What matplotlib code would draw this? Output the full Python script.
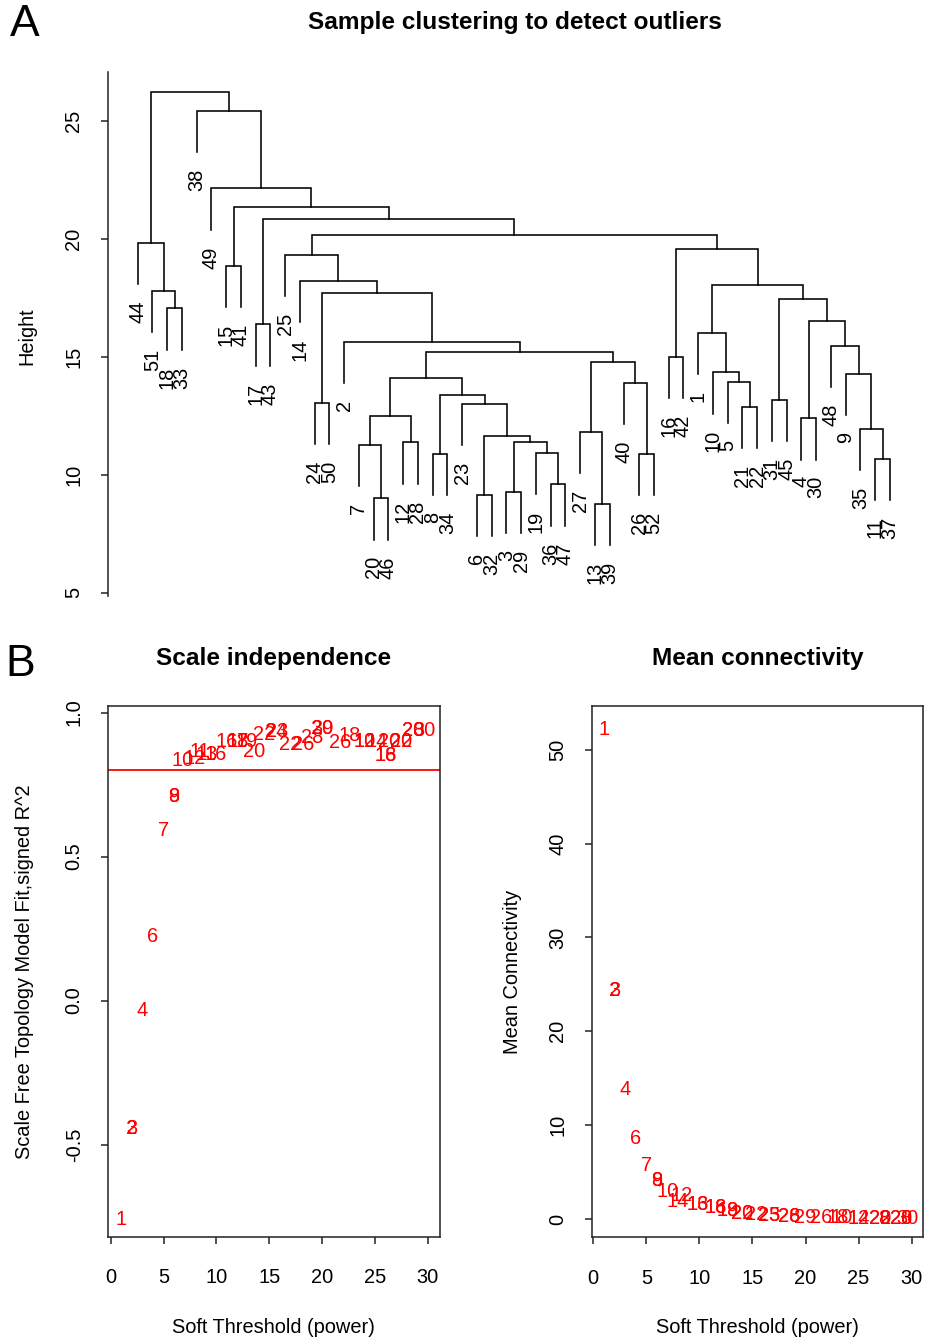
import matplotlib
matplotlib.use("Agg")
import matplotlib.pyplot as plt

plt.rcParams['font.family'] = ['Liberation Sans', 'DejaVu Sans']

# ---------------- Dendrogram data (R hclust style merge table) ----------------
# negative = sample id (leaf), positive = row number of earlier merge (1-based)
merge_a = [-13, -20, -6, -3, -36, -11, -8, -26, -19, -7, 4, -12, 3, -27, -35, -4,
           10, -21, -23, -24, -31, 7, -40, -5, 17, -9, -10, 14, -16, 25, -48, -2,
           -1, -17, 16, -18, 21, 20, -51, 33, -14, -15, -25, 29, -44, 43, 34, 42,
           -49, -38, 45]
merge_b = [-39, -46, -32, -29, -47, -37, -34, -52, 5, 2, 9, -28, 11, 1, 6, -30,
           12, -22, 13, -50, -45, 19, 8, 18, 22, 15, 24, 23, -42, 28, 26, 30,
           27, -43, 31, -33, 35, 32, 36, 37, 38, -41, 41, 40, 39, 44, 46, 47,
           48, 49, 50]
merge_h = [8.77, 9.01, 9.15, 9.27, 9.60, 10.68, 10.89, 10.89, 10.95, 11.27, 11.38,
           11.38, 11.65, 11.81, 11.94, 12.40, 12.51, 12.89, 13.00, 13.06, 13.18,
           13.39, 13.89, 13.93, 14.10, 14.28, 14.35, 14.80, 14.99, 15.20, 15.47,
           15.65, 16.03, 16.38, 16.53, 17.06, 17.46, 17.70, 17.80, 18.05, 18.22,
           18.87, 19.32, 19.58, 19.84, 20.17, 20.87, 21.37, 22.15, 25.44, 26.24]
height_ticks = [5, 10, 15, 20, 25]

# ---------------- Soft threshold data ----------------
sft_x = [1, 2, 2, 3, 4, 5, 6, 6, 6.8, 7.9, 8.4, 9.1, 9.9, 11, 12, 12, 12.9, 13.6,
         14.5, 15.7, 15.7, 17, 18.2, 19.1, 20, 20, 21.7, 22.6, 24, 24, 25.2,
         26.3, 27.5, 27.5, 26, 26, 28.6, 28.6, 29.7]
sft_r2 = [-0.76, -0.445, -0.445, -0.035, 0.222, 0.59, 0.708, 0.708, 0.832, 0.84,
          0.865, 0.855, 0.855, 0.90, 0.90, 0.90, 0.90, 0.865, 0.925, 0.935, 0.935,
          0.89, 0.89, 0.915, 0.945, 0.945, 0.895, 0.92, 0.90, 0.90, 0.90, 0.90,
          0.90, 0.90, 0.85, 0.85, 0.937, 0.937, 0.937]
sft_lab = ['1', '2', '3', '4', '6', '7', '8', '9', '10', '12', '11', '13', '16',
           '16', '18', '17', '19', '20', '22', '23', '24', '22', '26', '28', '29',
           '30', '26', '18', '10', '12', '14', '20', '22', '20', '16', '18', '28',
           '20', '30']
r2_cut = 0.80

mc_x = [1, 2, 2, 3, 4, 5, 6, 6, 7, 8.3, 8.0, 9.8, 9.8, 11.5, 11.5, 12.7, 12.7,
        14, 14, 15.3, 16.6, 16.6, 18.5, 18.5, 20, 21.5, 23, 23.4, 25, 25, 27, 27,
        27.4, 29, 29, 29.6]
mc_k = [52.2, 24.4, 24.4, 13.75, 8.6, 5.75, 4.15, 4.15, 2.9, 2.55, 1.9, 1.5, 1.5,
        1.2, 1.2, 0.9, 0.9, 0.6, 0.6, 0.45, 0.35, 0.35, 0.25, 0.25, 0.2, 0.15,
        0.12, 0.12, 0.1, 0.1, 0.1, 0.1, 0.1, 0.1, 0.1, 0.1]
mc_lab = ['1', '2', '3', '4', '6', '7', '8', '9', '10', '12', '14', '13', '16',
          '16', '18', '19', '18', '20', '22', '22', '23', '25', '26', '28', '29',
          '26', '18', '10', '14', '12', '20', '22', '8', '28', '20', '30']

x_ticks = [0, 5, 10, 15, 20, 25, 30]

# ---------------- figure ----------------
W, H = 926, 1340
fig = plt.figure(figsize=(W / 100, H / 100), dpi=100)
FS = 14.4
TFS = 17.6


def add_ax(l, t, r, b):
    return fig.add_axes([l / W, 1 - b / H, (r - l) / W, (b - t) / H])


def style_box(ax):
    for s in ax.spines.values():
        s.set_linewidth(1.1)
        s.set_color('#222222')
    ax.tick_params(direction='out', length=5, width=1.1, color='#222222',
                   labelsize=FS)
    ax.tick_params(axis='x', pad=17.5)
    ax.tick_params(axis='y', pad=12.5)


# ---------- Panel A: dendrogram ----------
axd = add_ax(107.6, 72, 920, 600)
n = len(merge_h)


def leaves(i):
    if i < 0:
        return [-i]
    return leaves(merge_a[i - 1]) + leaves(merge_b[i - 1])


order = leaves(n)
xleaf = {lab: k + 1 for k, lab in enumerate(order)}
hang = 0.1 * (max(merge_h) - min(merge_h))


def node_xy(i):
    if i < 0:
        return xleaf[-i], None
    xa, _ = node_xy(merge_a[i - 1])
    xb, _ = node_xy(merge_b[i - 1])
    return (xa + xb) / 2.0, merge_h[i - 1]


for j in range(1, n + 1):
    h = merge_h[j - 1]
    pts = []
    for c in (merge_a[j - 1], merge_b[j - 1]):
        xc, hc = node_xy(c)
        if hc is None:
            hc = h - hang
            axd.annotate(str(-c), (xc, hc), xytext=(0, -12),
                         textcoords='offset points', rotation=90,
                         ha='center', va='top', fontsize=FS, color='black')
        pts.append((xc, hc))
    (xa, ha_), (xb, hb_) = pts
    axd.plot([xa, xa, xb, xb], [ha_, h, h, hb_], color='black', lw=1.15,
             solid_joinstyle='miter')

axd.set_xlim(-1.04, len(order) + 2.04)
axd.set_ylim(4.70, 27.08)
for s in ('top', 'right', 'bottom'):
    axd.spines[s].set_visible(False)
axd.spines['left'].set_bounds(4.85, 27.08)
axd.spines['left'].set_linewidth(1.1)
axd.spines['left'].set_color('#222222')
axd.set_xticks([])
axd.set_yticks(height_ticks)
axd.tick_params(axis='y', direction='out', length=5, width=1.1, color='#222222',
                labelsize=FS, pad=12.5)
for t in axd.get_yticklabels():
    t.set_rotation(90)
    t.set_va('center')
axd.set_ylabel('Height', fontsize=FS, labelpad=20)
fig.text(514.5 / W, 1 - 22 / H, 'Sample clustering to detect outliers',
         fontsize=TFS, fontweight='bold', ha='center', va='center')
fig.text(25 / W, 1 - 25 / H, 'A', fontsize=32, ha='center', va='center')

# ---------- Panel B left: scale independence ----------
axl = add_ax(108, 705.7, 439.5, 1236.7)
style_box(axl)
for xv, yv, lab in zip(sft_x, sft_r2, sft_lab):
    axl.text(xv, yv, lab, color='red', fontsize=FS, ha='center', va='center')
axl.axhline(r2_cut, color='red', lw=1.3)
axl.set_xlim(-0.25, 31.1)
axl.set_ylim(-0.82, 1.024)
axl.set_xticks(x_ticks)
axl.set_yticks([-0.5, 0.0, 0.5, 1.0])
axl.set_yticklabels(['-0.5', '0.0', '0.5', '1.0'])
for t in axl.get_yticklabels():
    t.set_rotation(90)
    t.set_va('center')
axl.set_xlabel('Soft Threshold (power)', fontsize=FS, labelpad=22)
axl.set_ylabel('Scale Free Topology Model Fit,signed R^2', fontsize=FS,
               labelpad=22)
fig.text(274 / W, 1 - 658 / H, 'Scale independence', fontsize=TFS,
         fontweight='bold', ha='center', va='center')
fig.text(20 / W, 1 - 664 / H, 'B', fontsize=32, ha='center', va='center')

# ---------- Panel B right: mean connectivity ----------
axr = add_ax(591.7, 705.7, 923.3, 1237.3)
style_box(axr)
for xv, yv, lab in zip(mc_x, mc_k, mc_lab):
    axr.text(xv, yv, lab, color='red', fontsize=FS, ha='center', va='center')
axr.set_xlim(-0.15, 31.1)
axr.set_ylim(-1.95, 54.7)
axr.set_xticks(x_ticks)
axr.set_yticks([0, 10, 20, 30, 40, 50])
for t in axr.get_yticklabels():
    t.set_rotation(90)
    t.set_va('center')
axr.set_xlabel('Soft Threshold (power)', fontsize=FS, labelpad=22)
axr.set_ylabel('Mean Connectivity', fontsize=FS, labelpad=19)
fig.text(757.5 / W, 1 - 658 / H, 'Mean connectivity', fontsize=TFS,
         fontweight='bold', ha='center', va='center')

fig.savefig('out.png', dpi=100)
